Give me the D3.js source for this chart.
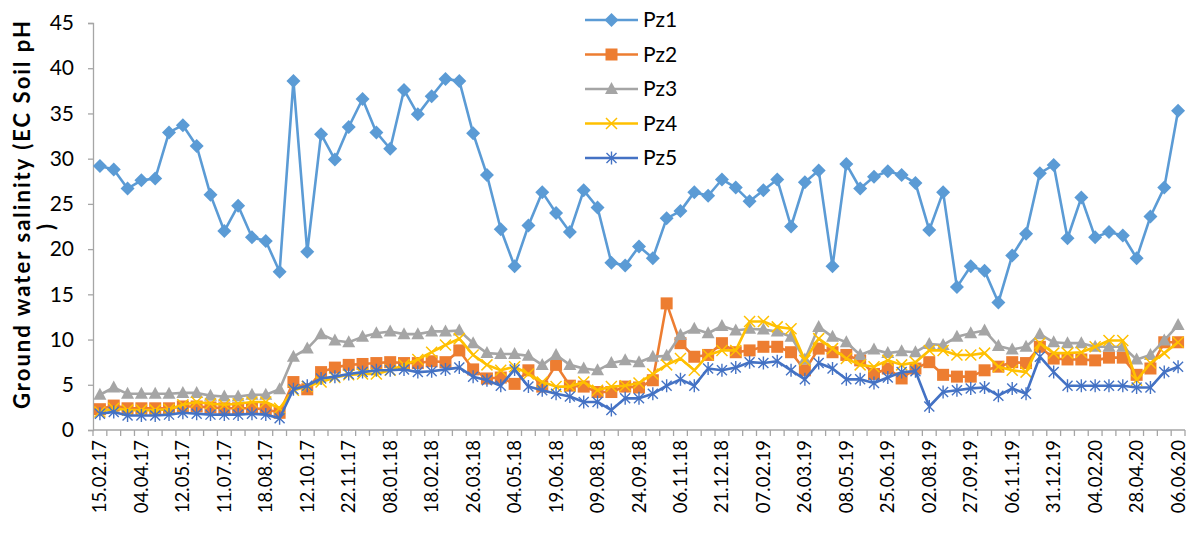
<!DOCTYPE html>
<html><head><meta charset="utf-8">
<script src="https://cdn.jsdelivr.net/npm/d3@7"></script>
<style>html,body{margin:0;padding:0;background:#fff;}svg{display:block;}</style>
</head><body>
<svg id="chart" width="1197" height="533"></svg>
<script>
const tickLabels = ["15.02.17","04.04.17","12.05.17","11.07.17","18.08.17","12.10.17","22.11.17","08.01.18","18.02.18","26.03.18","04.05.18","19.06.18","09.08.18","24.09.18","06.11.18","21.12.18","07.02.19","26.03.19","08.05.19","25.06.19","02.08.19","27.09.19","06.11.19","31.12.19","04.02.20","28.04.20","06.06.20"];
const seriesNames = ["Pz1","Pz2","Pz3","Pz4","Pz5"];
const pz1 = [29.2,28.8,26.7,27.6,27.8,32.9,33.7,31.4,26.0,22.0,24.8,21.3,20.9,17.5,38.6,19.7,32.7,29.9,33.5,36.6,32.9,31.1,37.6,34.9,36.9,38.8,38.6,32.8,28.2,22.2,18.1,22.6,26.3,24.0,21.9,26.5,24.6,18.5,18.2,20.3,19.0,23.4,24.2,26.3,25.9,27.7,26.8,25.3,26.5,27.7,22.5,27.4,28.7,18.1,29.4,26.7,28.0,28.6,28.2,27.3,22.1,26.3,15.8,18.1,17.6,14.1,19.3,21.7,28.4,29.3,21.2,25.7,21.3,21.9,21.5,19.0,23.6,26.8,35.3];
const pz2 = [2.3,2.7,2.4,2.4,2.4,2.4,2.6,2.6,2.5,2.4,2.4,2.4,2.3,1.9,5.3,4.5,6.4,6.9,7.2,7.3,7.4,7.5,7.4,7.4,7.6,7.5,8.8,6.7,5.7,5.8,5.1,6.6,4.8,7.2,4.9,4.8,4.2,4.2,4.8,4.7,5.5,14.0,9.6,8.1,8.3,9.6,8.6,8.8,9.2,9.2,8.6,6.6,9.0,8.6,8.3,7.7,6.2,6.8,5.7,6.8,7.5,6.1,5.9,5.9,6.6,7.0,7.5,7.4,9.2,7.9,7.8,7.8,7.7,8.0,8.0,6.1,6.8,9.7,9.7];
const pz3 = [3.9,4.7,4.0,4.0,4.0,4.0,4.1,4.1,3.8,3.7,3.7,3.9,3.9,4.5,8.1,9.0,10.6,9.9,9.7,10.3,10.7,10.9,10.6,10.6,10.9,10.9,11.0,9.6,8.5,8.4,8.4,8.2,7.2,8.3,7.2,6.8,6.6,7.4,7.7,7.5,8.1,8.2,10.5,11.2,10.7,11.5,11.0,11.2,11.1,10.9,10.3,7.8,11.4,10.3,9.7,8.3,8.9,8.5,8.7,8.6,9.5,9.4,10.3,10.7,11.0,9.3,8.9,9.2,10.6,9.7,9.6,9.6,9.2,9.2,9.2,7.8,8.3,9.9,11.6];
const pz4 = [2.0,2.4,2.2,2.2,2.2,2.3,2.8,3.1,2.9,2.8,2.9,3.1,3.1,2.4,4.4,4.8,5.3,5.8,6.1,6.2,6.2,6.6,7.2,7.8,8.6,9.4,10.1,8.3,7.2,6.6,7.0,6.2,5.3,4.8,4.8,5.3,4.4,4.8,4.9,5.2,6.2,7.2,7.9,6.6,8.3,8.8,8.8,12.0,12.0,11.4,11.2,7.7,10.1,9.0,7.9,7.2,7.0,7.7,7.2,7.5,8.8,8.8,8.3,8.3,8.5,7.0,6.6,6.4,9.6,8.5,8.5,8.6,9.2,9.9,9.9,5.5,7.4,8.5,9.7];
const pz5 = [1.8,2.0,1.6,1.6,1.6,1.7,1.9,1.8,1.7,1.7,1.7,1.8,1.7,1.3,4.5,4.9,5.7,5.9,6.2,6.4,6.6,6.6,6.7,6.4,6.5,6.7,6.9,5.9,5.5,4.9,6.7,4.8,4.4,4.0,3.7,3.1,3.1,2.2,3.5,3.5,4.0,4.9,5.6,4.9,6.8,6.6,6.9,7.5,7.4,7.6,6.6,5.6,7.4,6.8,5.6,5.6,5.2,5.8,6.4,6.5,2.6,4.2,4.4,4.6,4.7,3.8,4.6,4.0,8.1,6.4,4.9,4.9,4.9,4.9,4.9,4.7,4.7,6.4,7.0];
const yTicks = [0,5,10,15,20,25,30,35,40,45];
const colors = ["#5B9BD5","#ED7D31","#A5A5A5","#FFC000","#4472C4"];

const allSeries = [pz1,pz2,pz3,pz4,pz5];
const N = pz1.length;
const idx = d3.range(N);
const svg = d3.select("#chart");
const font = "Lato, 'Open Sans', sans-serif";
const m = {left:93, right:12, top:23, bottom:103};
const W = 1197, H = 533;
const x = d3.scaleBand().domain(idx).range([m.left, W - m.right]).paddingInner(0).paddingOuter(0);
const y = d3.scaleLinear().domain([0,45]).range([H - m.bottom, m.top]);
const cx = i => x(i) + x.bandwidth()/2;

// Y axis
const yAxis = d3.axisLeft(y).tickValues(yTicks).tickSize(5).tickPadding(14);
const gy = svg.append("g").attr("transform", `translate(${m.left},0)`).call(yAxis);
gy.select(".domain").attr("stroke","#A6A6A6").attr("stroke-width",1.3);
gy.selectAll(".tick line").attr("stroke","#A6A6A6").attr("stroke-width",1.3);
gy.selectAll(".tick text").attr("font-family",font).attr("font-size",21).attr("fill","#000");

// X axis: ticks at category boundaries, labels every 3rd category
const xb = H - m.bottom;
const gx = svg.append("g");
gx.append("line").attr("x1",m.left).attr("x2",W - m.right).attr("y1",xb).attr("y2",xb).attr("stroke","#A6A6A6").attr("stroke-width",1.3);
gx.selectAll("line.tk").data(d3.range(N+1)).join("line").attr("class","tk")
  .attr("x1",i => i<N ? x(i) : x(N-1)+x.bandwidth()).attr("x2",i => i<N ? x(i) : x(N-1)+x.bandwidth())
  .attr("y1",xb).attr("y2",xb+6).attr("stroke","#A6A6A6").attr("stroke-width",1.3);
gx.selectAll("text").data(tickLabels).join("text")
  .attr("transform",(d,k) => `translate(${cx(k*3)+6.5},${xb+10}) rotate(-90)`)
  .attr("text-anchor","end").attr("font-family",font).attr("font-size",18.5).attr("fill","#000").text(d => d);

// Y title
const yt = svg.append("text").attr("font-family",font).attr("font-weight","bold").attr("font-size",22).attr("fill","#000")
  .attr("text-anchor","middle").attr("transform","translate(30,215) rotate(-90)");
yt.append("tspan").attr("x",0).attr("dy",0).attr("textLength",388).attr("lengthAdjust","spacing").text("Ground water salinity (EC Soil pH");
yt.append("tspan").attr("x",-12).attr("dy",24).text(")");

// markers
function marker(g, k, c) {
  if (k===0) g.append("path").attr("d","M0,-7L7,0L0,7L-7,0Z").attr("fill",c);
  else if (k===1) g.append("rect").attr("x",-6).attr("y",-6).attr("width",12).attr("height",12).attr("fill",c);
  else if (k===2) g.append("path").attr("d","M0,-7L6.5,5L-6.5,5Z").attr("fill",c);
  else if (k===3) g.append("path").attr("d","M-5.5,-5.5L5.5,5.5M5.5,-5.5L-5.5,5.5").attr("stroke",c).attr("stroke-width",1.5);
  else g.append("path").attr("d","M-5,-5L5,5M5,-5L-5,5M0,-6.5L0,6.5").attr("stroke",c).attr("stroke-width",1.4);
}

const line = d3.line().x((d,i) => cx(i)).y(d => y(d));
allSeries.forEach((s,k) => {
  const g = svg.append("g");
  g.append("path").datum(s).attr("d",line).attr("fill","none").attr("stroke",colors[k]).attr("stroke-width",2.6).attr("stroke-linejoin","round");
  g.selectAll("g.mk").data(s).join("g").attr("class","mk")
    .attr("transform",(d,i) => `translate(${cx(i)},${y(d)})`)
    .each(function(){ marker(d3.select(this), k, colors[k]); });
});

// legend
const lg = svg.append("g");
seriesNames.forEach((n,k) => {
  const yy = 20 + k*34.5;
  lg.append("line").attr("x1",585).attr("x2",638).attr("y1",yy).attr("y2",yy).attr("stroke",colors[k]).attr("stroke-width",2.6);
  const mg = lg.append("g").attr("transform",`translate(611.5,${yy})`);
  marker(mg,k,colors[k]);
  lg.append("text").attr("x",643).attr("y",yy).attr("dy","0.35em").attr("font-family",font).attr("font-size",21).attr("fill","#000").text(n);
});
</script>
</body></html>
